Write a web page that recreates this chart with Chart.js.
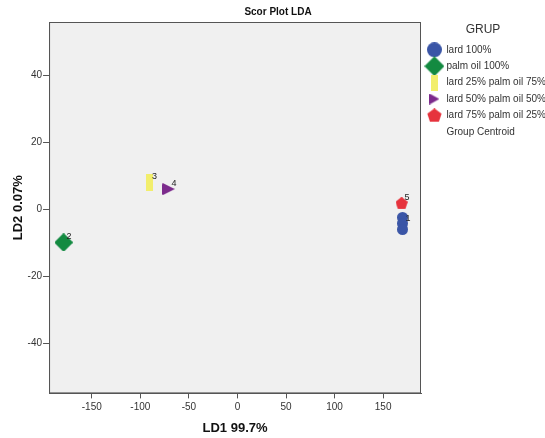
<!DOCTYPE html>
<html>
<head>
<meta charset="utf-8">
<script src="https://cdn.jsdelivr.net/npm/chart.js@4.4.1/dist/chart.umd.min.js"></script>
<style>
  html, body { margin: 0; padding: 0; background: #fff; }
  #wrap { width: 545px; height: 438px; }
</style>
</head>
<body>
<div id="wrap"><canvas id="ldaChart"></canvas></div>
<script>
// group names and point labels
const groups = ["lard 100%", "palm oil 100%", "lard 25% palm oil 75%", "lard 50% palm oil 50%", "lard 75% palm oil 25%"];
const groupNumbers = ["1", "2", "3", "4", "5"];
const groupColors = ["#3a55a6", "#138a40", "#f2ee6c", "#7c2b8c", "#e6333d"];

// LDA scores (LD1, LD2)
const lard100X = [170, 170, 170];
const lard100Y = [-2.4, -4.2, -6.0];
const palm100X = [-179, -179];
const palm100Y = [-9.9, -9.9];
const lard25X = [-91, -91];
const lard25Y = [9.3, 6.8];
const lard50X = [-71, -72];
const lard50Y = [6.1, 6.0];
const lard75X = [169, 169];
const lard75Y = [1.8, 1.8];

// group centroids
const centroidX = [170, -179, -91, -71, 169];
const centroidY = [-4.6, -9.9, 8.0, 6.0, 1.8];

const xTicks = [-150, -100, -50, 0, 50, 100, 150];
const yTicks = [-40, -20, 0, 20, 40];

function marker(kind, w, h, color) {
  const c = document.createElement("canvas");
  c.width = w;
  c.height = h;
  const ctx = c.getContext("2d");
  ctx.fillStyle = color;
  ctx.beginPath();
  if (kind === "circle") {
    ctx.arc(w / 2, h / 2, Math.min(w, h) / 2, 0, Math.PI * 2);
  } else if (kind === "diamond") {
    ctx.moveTo(w / 2, 0);
    ctx.lineTo(w, h / 2);
    ctx.lineTo(w / 2, h);
    ctx.lineTo(0, h / 2);
  } else if (kind === "rect") {
    ctx.rect(0, 0, w, h);
  } else if (kind === "triangle") {
    ctx.moveTo(0, 0);
    ctx.lineTo(w, h / 2);
    ctx.lineTo(0, h);
  } else if (kind === "pentagon") {
    for (let i = 0; i < 5; i++) {
      const a = -Math.PI / 2 + i * 2 * Math.PI / 5;
      const px = w / 2 + (w / 2) * Math.cos(a);
      const py = h * 0.53 + (h * 0.53) * Math.sin(a);
      if (i === 0) ctx.moveTo(px, py); else ctx.lineTo(px, py);
    }
  }
  ctx.closePath();
  ctx.fill();
  return c;
}

const kinds = ["circle", "diamond", "rect", "triangle", "pentagon"];
const plotSizes = [[11, 11], [18, 18], [7, 9], [12, 12], [12, 12]];
const legendSizes = [[15, 15], [20, 20], [7, 16], [10, 11], [15, 14]];
const plotMarkers = kinds.map((k, i) => marker(k, plotSizes[i][0], plotSizes[i][1], groupColors[i]));
const legendMarkers = kinds.map((k, i) => marker(k, legendSizes[i][0], legendSizes[i][1], groupColors[i]));
const centroidMarker = marker("rect", 4, 4, "#ffffff");

const seriesX = [lard100X, palm100X, lard25X, lard50X, lard75X];
const seriesY = [lard100Y, palm100Y, lard25Y, lard50Y, lard75Y];

const datasets = groups.map((g, i) => ({
  label: g,
  data: seriesX[i].map((x, j) => ({ x: x, y: seriesY[i][j] })),
  pointStyle: plotMarkers[i],
  backgroundColor: groupColors[i],
  borderColor: groupColors[i],
  pointRadius: 6
}));

datasets.push({
  label: "Group Centroid",
  data: centroidX.map((x, i) => ({ x: x, y: centroidY[i] })),
  pointStyle: centroidMarker,
  backgroundColor: "#ffffff",
  borderColor: "#ffffff",
  pointRadius: 2
});

// grey plot background and frame
const plotFrame = {
  id: "plotFrame",
  beforeDraw(chart) {
    const { ctx, chartArea: a } = chart;
    ctx.save();
    ctx.fillStyle = "#f0f0f0";
    ctx.fillRect(a.left, a.top, a.right - a.left, a.bottom - a.top);
    ctx.restore();
  },
  afterDraw(chart) {
    const { ctx, chartArea: a } = chart;
    ctx.save();
    ctx.strokeStyle = "#555";
    ctx.lineWidth = 1;
    ctx.strokeRect(a.left + 0.5, a.top + 0.5, a.right - a.left - 1, a.bottom - a.top - 1);
    ctx.restore();
  }
};

// case numbers next to the centroids
const centroidNumbers = {
  id: "centroidNumbers",
  afterDatasetsDraw(chart) {
    const { ctx } = chart;
    const meta = chart.getDatasetMeta(groups.length);
    ctx.save();
    ctx.fillStyle = "#222";
    ctx.font = "9px 'Liberation Sans', Arial, sans-serif";
    ctx.textBaseline = "middle";
    meta.data.forEach((pt, i) => {
      ctx.fillText(groupNumbers[i], pt.x + 3, pt.y - 6);
    });
    ctx.restore();
  }
};

const tickFont = { family: "'Liberation Sans', Arial, sans-serif", size: 10 };
const titleFont = { family: "'Liberation Sans', Arial, sans-serif", size: 13, weight: "bold" };

new Chart(document.getElementById("ldaChart"), {
  type: "scatter",
  data: { datasets: datasets },
  plugins: [plotFrame, centroidNumbers],
  options: {
    responsive: true,
    maintainAspectRatio: false,
    animation: false,
    layout: { padding: { left: 11, right: 0, top: 0, bottom: 2 } },
    scales: {
      x: {
        min: -194,
        max: 189,
        afterBuildTicks: axis => { axis.ticks = xTicks.map(v => ({ value: v })); },
        ticks: { font: tickFont, color: "#333", padding: 3 },
        grid: { drawOnChartArea: false, drawTicks: true, tickLength: 5, color: "#555" },
        border: { display: true, color: "#555" },
        title: { display: true, text: "LD1 99.7%", font: titleFont, color: "#111", padding: { top: 4, bottom: 0 } }
      },
      y: {
        min: -55,
        max: 56,
        afterBuildTicks: axis => { axis.ticks = yTicks.map(v => ({ value: v })); },
        ticks: { font: tickFont, color: "#333", padding: 1 },
        grid: { drawOnChartArea: false, drawTicks: true, tickLength: 6, color: "#555" },
        border: { display: true, color: "#555" },
        title: { display: true, text: "LD2 0.07%", font: titleFont, color: "#111", padding: { top: 0, bottom: 0 } }
      }
    },
    plugins: {
      title: {
        display: true,
        text: "Scor Plot LDA",
        font: { family: "'Liberation Sans', Arial, sans-serif", size: 10, weight: "bold" },
        color: "#111",
        padding: { top: 6, bottom: 4 }
      },
      legend: {
        position: "right",
        align: "start",
        maxWidth: 124,
        title: {
          display: true,
          text: "GRUP",
          font: { family: "'Liberation Sans', Arial, sans-serif", size: 12 },
          color: "#333",
          padding: { top: 24, bottom: 0 }
        },
        labels: {
          usePointStyle: true,
          pointStyleWidth: 14,
          padding: 6.4,
          color: "#222",
          font: tickFont,
          generateLabels: chart => chart.data.datasets.map((ds, i) => ({
            text: ds.label,
            fillStyle: ds.backgroundColor,
            strokeStyle: ds.borderColor,
            lineWidth: 0,
            pointStyle: i < legendMarkers.length ? legendMarkers[i] : centroidMarker,
            hidden: !chart.isDatasetVisible(i),
            datasetIndex: i
          }))
        }
      },
      tooltip: { enabled: true }
    }
  }
});
</script>
</body>
</html>
